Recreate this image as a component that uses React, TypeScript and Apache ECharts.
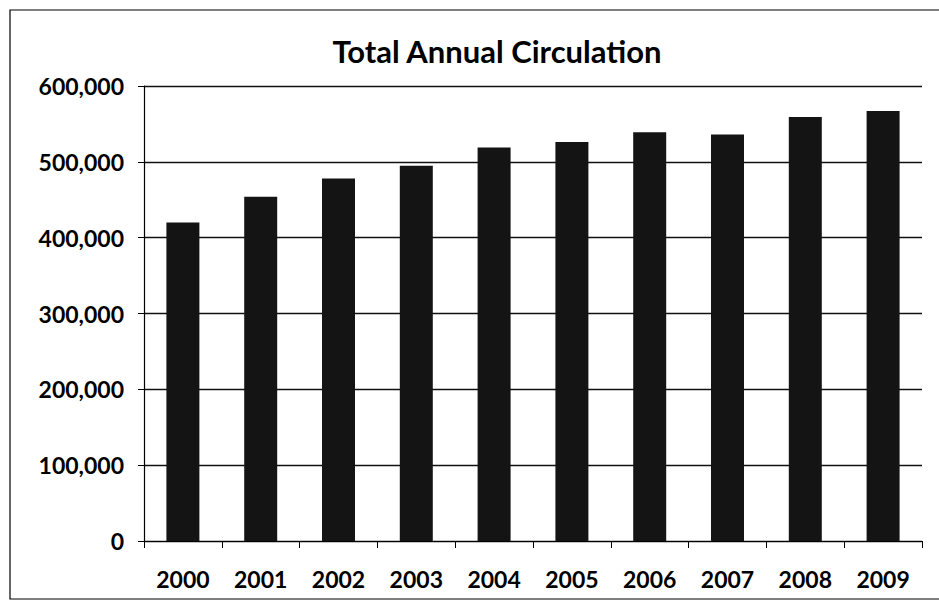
import React, { useEffect, useRef } from "react";
import * as echarts from "echarts";

const categories = ["2000", "2001", "2002", "2003", "2004", "2005", "2006", "2007", "2008", "2009"];
const circulation = [420000, 454000, 478000, 495000, 519000, 526000, 539000, 536000, 559000, 567000];
const yTicks = { min: 0, max: 600000, interval: 100000 };
const titleText = "Total Annual Circulation";

export default function App() {
  const ref = useRef<HTMLDivElement>(null);
  useEffect(() => {
    if (!ref.current) return;
    const chart = echarts.init(ref.current, null, { renderer: "svg" });
    const font = "Lato, 'Open Sans', sans-serif";
    chart.setOption({
      animation: false,
      backgroundColor: "#ffffff",
      title: {
        text: titleText,
        left: 492,
        top: 30,
        textAlign: "center",
        textStyle: { fontFamily: font, fontSize: 31, fontWeight: "bold", color: "#000" },
      },
      grid: { left: 144, right: 17, top: 86, bottom: 67 },
      xAxis: {
        type: "category",
        data: categories,
        axisLine: { lineStyle: { color: "#000", width: 1.2 } },
        axisTick: { show: true, length: 7, lineStyle: { color: "#000" } },
        axisLabel: { fontFamily: font, fontSize: 23, fontWeight: "bold", color: "#000", margin: 26 },
      },
      yAxis: {
        type: "value",
        min: yTicks.min,
        max: yTicks.max,
        interval: yTicks.interval,
        axisLine: { show: true, lineStyle: { color: "#000", width: 1.2 } },
        axisTick: { show: true, length: 6, lineStyle: { color: "#000" } },
        splitLine: { lineStyle: { color: "#111", width: 1.3 } },
        axisLabel: {
          fontFamily: font,
          fontSize: 23,
          fontWeight: "bold",
          color: "#000",
          margin: 20,
          formatter: (v: number) => v.toLocaleString("en-US"),
        },
      },
      series: [
        {
          type: "bar",
          data: circulation,
          barWidth: 33,
          itemStyle: { color: "#141414" },
        },
      ],
      graphic: [
        {
          type: "rect",
          shape: { x: 10, y: 10, width: 940, height: 589 },
          style: { fill: "none", stroke: "#000", lineWidth: 1.2 },
          silent: true,
        },
      ],
    });
    return () => chart.dispose();
  }, []);
  return <div ref={ref} style={{ position: "absolute", left: 0, top: 0, width: 939, height: 608 }} />;
}
